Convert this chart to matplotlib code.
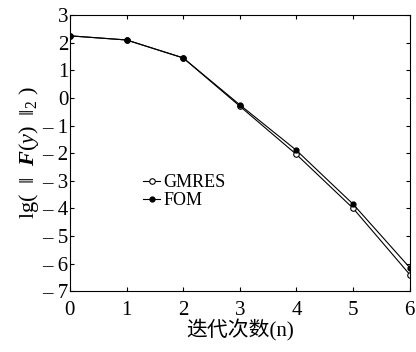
import matplotlib
matplotlib.use("Agg")
import matplotlib.pyplot as plt

plt.rcParams['font.family'] = ['Liberation Serif', 'Noto Sans CJK SC']
plt.rcParams['mathtext.fontset'] = 'custom'
plt.rcParams['mathtext.rm'] = 'Liberation Serif'
plt.rcParams['mathtext.it'] = 'Liberation Serif:italic'
plt.rcParams['mathtext.bf'] = 'Liberation Serif:bold:italic'

n = [0, 1, 2, 3, 4, 5, 6]
gmres = [2.25, 2.1, 1.45, -0.3, -2.05, -4.0, -6.4]
fom = [2.25, 2.1, 1.45, -0.25, -1.9, -3.85, -6.15]
yticks = [-7, -6, -5, -4, -3, -2, -1, 0, 1, 2, 3]
ytick_labels = ['\u2013 ' + str(-v) if v < 0 else str(v) for v in yticks]

fig = plt.figure(figsize=(4.16, 3.52), dpi=100)
ax = fig.add_axes([0.168, 0.173, 0.817, 0.784])

ax.plot(n, gmres, color='black', lw=0.8, marker='o', ms=4, mfc='white',
        mec='black', mew=0.8, label='GMRES')
ax.plot(n, fom, color='black', lw=0.8, marker='o', ms=3.5, mfc='black',
        mec='black', label='FOM')

ax.set_xlim(0, 6)
ax.set_ylim(-7, 3)
ax.set_xticks(n)
ax.set_yticks(yticks)
ax.set_yticklabels(ytick_labels)
ax.tick_params(direction='in', length=3, labelsize=15, top=True, right=True)
ax.tick_params(axis='y', pad=1)
ax.tick_params(axis='x', pad=7)
for s in ax.spines.values():
    s.set_linewidth(0.8)

ax.set_xlabel('迭代次数(n)', fontsize=15, labelpad=0)
ax.set_ylabel(r'lg(  $\Vert$  $\mathbf{F}$($\mathit{y}$)  $\Vert_2$ )',
              fontsize=16, labelpad=1)

ax.legend(loc='center left', bbox_to_anchor=(0.19, 0.36), frameon=False,
          fontsize=13, handlelength=0.9, handletextpad=0.2, labelspacing=0.05,
          borderpad=0)

fig.savefig('out.png', dpi=100)
